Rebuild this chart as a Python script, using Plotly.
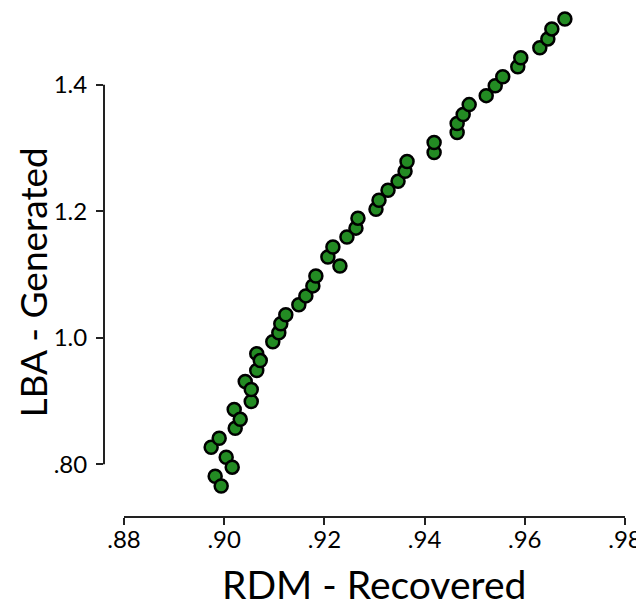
import plotly.graph_objects as go

rdm_recovered = [0.8974, 0.8990, 0.8982, 0.8994, 0.9004, 0.9016, 0.9020, 0.9022, 0.9032, 0.9042,
                 0.9054, 0.9054, 0.9065, 0.9065, 0.9072, 0.9097, 0.9109, 0.9113, 0.9123, 0.9149,
                 0.9163, 0.9177, 0.9183, 0.9207, 0.9217, 0.9231, 0.9245, 0.9263, 0.9267, 0.9303,
                 0.9309, 0.9327, 0.9347, 0.9361, 0.9365, 0.9419, 0.9419, 0.9465, 0.9465, 0.9477,
                 0.9489, 0.9523, 0.9541, 0.9556, 0.9586, 0.9592, 0.9630, 0.9646, 0.9654, 0.9680]
lba_generated = [0.8268, 0.8409, 0.7810, 0.7654, 0.8110, 0.7953, 0.8866, 0.8567, 0.8709, 0.9307,
                 0.8992, 0.9181, 0.9480, 0.9748, 0.9638, 0.9937, 1.0079, 1.0220, 1.0362, 1.0520,
                 1.0661, 1.0819, 1.0976, 1.1276, 1.1433, 1.1134, 1.1591, 1.1732, 1.1890, 1.2031,
                 1.2173, 1.2331, 1.2472, 1.2630, 1.2787, 1.2929, 1.3087, 1.3244, 1.3386, 1.3528,
                 1.3685, 1.3827, 1.3984, 1.4126, 1.4283, 1.4425, 1.4583, 1.4724, 1.4882, 1.5039]

x_tickvals = [0.88, 0.90, 0.92, 0.94, 0.96, 0.98]
x_ticktext = [".88", ".90", ".92", ".94", ".96", ".98"]
y_tickvals = [0.8, 1.0, 1.2, 1.4]
y_ticktext = [".80", "1.0", "1.2", "1.4"]

FONT = "Lato, Carlito, 'Open Sans', sans-serif"

fig = go.Figure()
fig.add_trace(go.Scatter(
    x=rdm_recovered, y=lba_generated, mode="markers",
    marker=dict(size=13, color="#238b23", line=dict(color="black", width=2.5)),
    showlegend=False, cliponaxis=False,
))

fig.update_layout(
    width=636, height=600,
    margin=dict(l=96, r=14, t=2, b=91),
    paper_bgcolor="white", plot_bgcolor="white",
    font=dict(family=FONT, color="black"),
    xaxis=dict(range=[0.87601, 0.981], tickvals=x_tickvals, ticktext=x_ticktext,
               ticks="outside", ticklen=7, tickwidth=2, tickcolor="#222",
               showgrid=False, zeroline=False, showline=False, automargin=False,
               ticklabelstandoff=-6,
               tickfont=dict(size=24, family=FONT)),
    yaxis=dict(range=[0.7165, 1.5181], tickvals=y_tickvals, ticktext=y_ticktext,
               ticks="outside", ticklen=7, tickwidth=2, tickcolor="#222",
               showgrid=False, zeroline=False, showline=False, automargin=False,
               ticklabelstandoff=4,
               tickfont=dict(size=24, family=FONT)),
    shapes=[
        dict(type="line", xref="x", yref="paper", x0=x_tickvals[0], x1=x_tickvals[-1], y0=0, y1=0,
             line=dict(color="#222", width=2)),
        dict(type="line", xref="paper", yref="y", x0=0, x1=0, y0=y_tickvals[0], y1=y_tickvals[-1],
             line=dict(color="#222", width=2)),
    ],
    annotations=[
        dict(text="RDM - Recovered", xref="x", yref="paper", x=0.93, y=0, yshift=-67,
             xanchor="center", yanchor="middle", showarrow=False,
             font=dict(size=39, family=FONT)),
        dict(text="LBA - Generated", xref="paper", yref="paper", x=0, xshift=-71, y=0.4625,
             xanchor="center", yanchor="middle", textangle=-90, showarrow=False,
             font=dict(size=37, family=FONT)),
    ],
)

fig.write_html("out.html")
